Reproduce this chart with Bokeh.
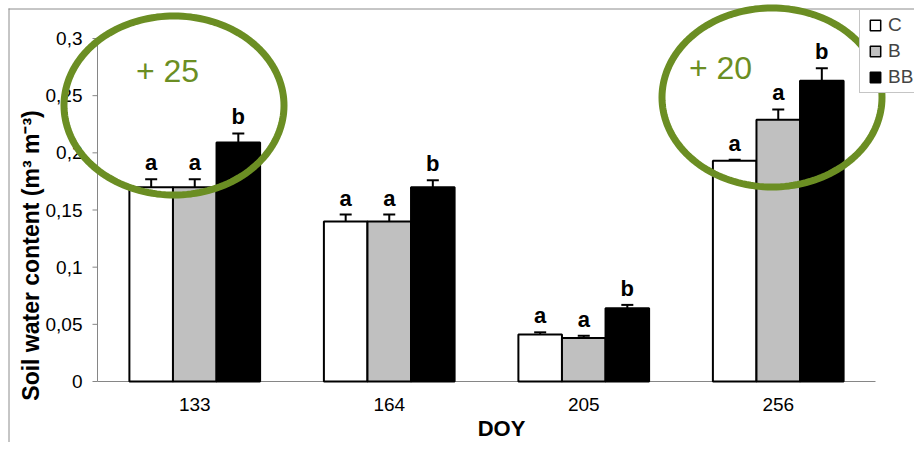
import math
from bokeh.plotting import figure
from bokeh.core.properties import value
from bokeh.models import (Range1d, ColumnDataSource, Whisker, TeeHead,
                          LabelSet, Label, PolyAnnotation, Legend, LegendItem)
from bokeh.embed import file_html
from bokeh.resources import INLINE

# ---- data ----
doy = ["133", "164", "205", "256"]
treatments = ["C", "B", "BB"]
C_vals = [0.170, 0.140, 0.041, 0.193]
B_vals = [0.170, 0.140, 0.038, 0.229]
BB_vals = [0.209, 0.170, 0.064, 0.263]
C_err = [0.007, 0.006, 0.002, 0.001]
B_err = [0.007, 0.006, 0.002, 0.009]
BB_err = [0.008, 0.006, 0.003, 0.011]
C_letters = ["a", "a", "a", "a"]
B_letters = ["a", "a", "a", "a"]
BB_letters = ["b", "b", "b", "b"]
y_ticks = [0, 0.05, 0.1, 0.15, 0.2, 0.25, 0.3]
y_tick_labels = ["0", "0,05", "0,1", "0,15", "0,2", "0,25", "0,3"]
annot_texts = ["+ 25", "+ 20"]

FONT = "Liberation Sans"
GREEN = "#6b8e23"
AXIS_GRAY = "#868686"
BORDER_GRAY = "#8c8c8c"

# layout geometry (canvas pixels); the plotting frame covers the whole canvas
W, H = 914, 442
ORIGIN_X, ORIGIN_Y = 97, 381          # canvas pixel of data (0, 0)
XPX = 194.5                           # px per category
YPX = 343 / 0.3                       # px per unit of y


def dx(px):
    return px / XPX


def dy(px):
    return px / YPX


def px_x(cx):
    return (cx - ORIGIN_X) / XPX


def px_y(cy):
    return (ORIGIN_Y - cy) / YPX


p = figure(width=W, height=H, output_backend="svg", toolbar_location=None,
           x_range=Range1d(px_x(0), px_x(W)),
           y_range=Range1d(px_y(H), px_y(0)),
           x_axis_location=None, y_axis_location=None,
           min_border_left=0, min_border_right=0, min_border_top=0, min_border_bottom=0)
p.outline_line_color = None
p.xgrid.visible = False
p.ygrid.visible = False
p.background_fill_color = "white"
p.border_fill_color = "white"

n_cat = len(doy)
x_centers = [i + 0.5 for i in range(n_cat)]
bw = 0.224
series = [
    (C_vals, C_err, C_letters, "white", -bw),
    (B_vals, B_err, B_letters, "#c0c0c0", 0.0),
    (BB_vals, BB_err, BB_letters, "black", bw),
]

# outer chart-area border (left and top edges)
p.segment(x0=[px_x(8.5), px_x(8)], y0=[px_y(H), px_y(8.5)],
          x1=[px_x(8.5), px_x(W)], y1=[px_y(8), px_y(8.5)],
          line_color=BORDER_GRAY, line_width=1)

# axes (drawn through the data scales)
p.segment(x0=[0, 0], y0=[0, 0], x1=[0, n_cat], y1=[max(y_ticks), 0],
          line_color=AXIS_GRAY, line_width=1)
p.segment(x0=[0] * len(y_ticks), y0=y_ticks, x1=[-dx(5)] * len(y_ticks), y1=y_ticks,
          line_color=AXIS_GRAY, line_width=1)
p.text(x=[-dx(15)] * len(y_ticks), y=y_ticks, text=y_tick_labels,
       text_align="right", text_baseline="middle", text_font=value(FONT),
       text_font_size="19px", text_color="black")
p.text(x=x_centers, y=[-dy(23)] * n_cat, text=doy,
       text_align="center", text_baseline="middle", text_font=value(FONT),
       text_font_size="19px", text_color="black")

for vals, errs, letters, color, off in series:
    xs = [c + off for c in x_centers]
    src = ColumnDataSource(dict(x=xs, top=vals,
                                upper=[v + e for v, e in zip(vals, errs)],
                                lower=[v - e for v, e in zip(vals, errs)],
                                txt=letters))
    p.vbar(x="x", top="top", width=bw, bottom=0, source=src,
           fill_color=color, line_color="black", line_width=2)
    p.add_layout(Whisker(source=src, base="x", upper="upper", lower="lower",
                         line_color="black", line_width=2,
                         upper_head=TeeHead(size=12, line_color="black", line_width=2),
                         lower_head=TeeHead(size=12, line_color="black", line_width=2)))
    p.add_layout(LabelSet(source=src, x="x", y="upper", text="txt",
                          text_align="center", text_baseline="alphabetic", y_offset=9,
                          text_font=value(FONT), text_font_style="bold",
                          text_font_size="22px", text_color="black"))

# axis titles
p.add_layout(Label(x=px_x(30), y=px_y(255), text="Soil water content (m³ m⁻³)",
                   angle=math.pi / 2, text_align="center", text_baseline="middle",
                   text_font=FONT, text_font_style="bold", text_font_size="23px",
                   text_color="black"))
p.add_layout(Label(x=px_x(501), y=px_y(428), text="DOY", text_align="center",
                   text_baseline="middle", text_font=FONT, text_font_style="bold",
                   text_font_size="22px", text_color="black"))

# legend (markers only; NaN points are never drawn on the plot)
nan = float("nan")
leg_items = []
for (vals, errs, letters, color, off), name in zip(series, treatments):
    r = p.scatter([nan], [nan], marker="square", size=11, fill_color=color,
                  line_color="black", line_width=1.5)
    leg_items.append(LegendItem(label=name, renderers=[r]))
legend = Legend(items=leg_items, location=(859, H - 93), padding=2, margin=0,
                spacing=0, glyph_width=26, glyph_height=26, label_height=26, label_width=45,
                label_standoff=0, label_text_font=FONT, label_text_font_size="19px",
                border_line_color=BORDER_GRAY, border_line_width=1, background_fill_alpha=1)
p.add_layout(legend, "center")

# green ellipses with annotation text (drawn above the legend)
ell_centers = [(px_x(173.5), px_y(105)), (px_x(771.5), px_y(97))]
rx, ry = dx(110), dy(89.5)
for cx, cy in ell_centers:
    n = 160
    xs = [cx + rx * math.cos(2 * math.pi * k / n) for k in range(n)]
    ys = [cy + ry * math.sin(2 * math.pi * k / n) for k in range(n)]
    p.add_layout(PolyAnnotation(xs=xs, ys=ys, fill_color=None, fill_alpha=0,
                                line_color=GREEN, line_alpha=1, line_width=7,
                                level="overlay"))
for (tx, ty), t in zip([(px_x(167), px_y(70)), (px_x(720), px_y(67))], annot_texts):
    p.add_layout(Label(x=tx, y=ty, text=t, text_align="center", text_baseline="middle",
                       text_font=FONT, text_font_size="32px", text_color=GREEN))

open("out.html", "w").write(file_html(p, INLINE))
